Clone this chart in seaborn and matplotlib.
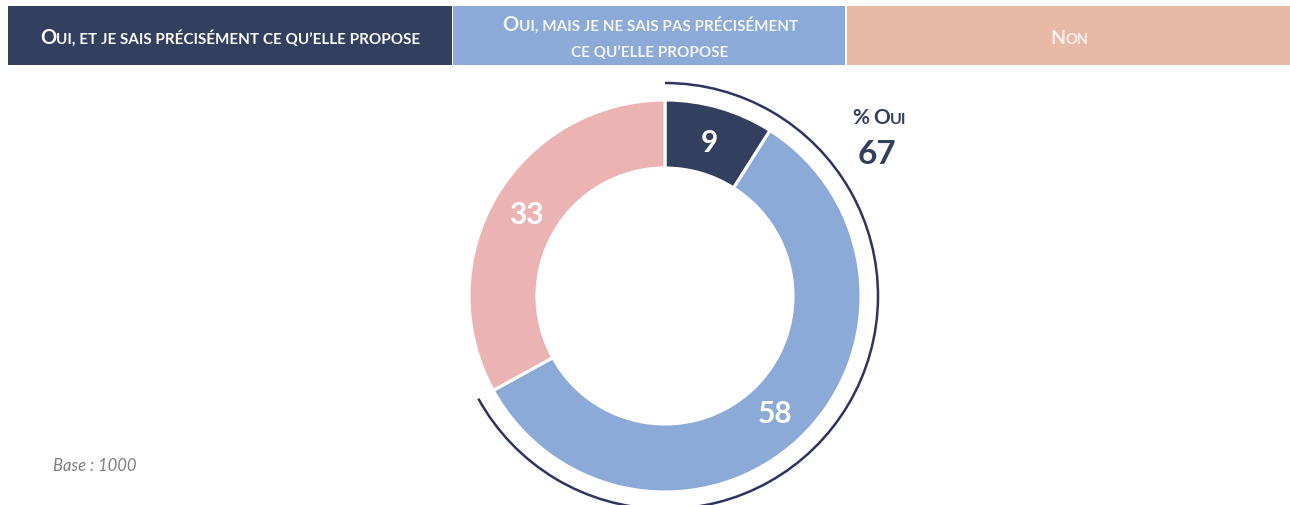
import matplotlib
matplotlib.use("Agg")
import matplotlib.pyplot as plt
from matplotlib.patches import Rectangle, Arc
import seaborn as sns

# Data
categories = ["Oui, et je sais précisément ce qu’elle propose",
              "Oui, mais je ne sais pas précisément\nce qu’elle propose",
              "Non"]
values = [9, 58, 33]
yes_total = values[0] + values[1]
base_label = "Base : 1000"

navy = "#333F5E"
blue = "#8BAAD8"
pink = "#EBB4B3"
head_pink = "#E9B9A7"
arc_col = "#2E3462"

sns.set_style("white")
plt.rcParams["font.family"] = ["Lato", "DejaVu Sans"]

W, H = 1290, 506
fig = plt.figure(figsize=(W / 100, H / 100), dpi=100)
ax = fig.add_axes([0, 0, 1, 1])

cx, cy, R = 665, H - 297, 196

wedges, texts, autotexts = ax.pie(
    values, colors=[navy, blue, pink], startangle=90, counterclock=False,
    radius=R, center=(cx, cy), pctdistance=0.82,
    autopct=lambda p: f"{p:.0f}",
    wedgeprops=dict(width=68, edgecolor="white", linewidth=2.2),
    textprops=dict(color="white", fontsize=21.5, fontweight="bold"))

# arc around the "oui" share
ax.add_patch(Arc((cx, cy), 2 * 213, 2 * 213, theta1=90 - yes_total * 3.6, theta2=90,
                 color=arc_col, lw=1.8))

ax.set_xlim(0, W)
ax.set_ylim(0, H)
ax.set_aspect("equal")
ax.axis("off")

renderer = fig.canvas.get_renderer()


def small_caps(x, y, text, big, small, color, weight="bold"):
    # split into runs of big (capitals, %) and small (lowercase and the rest)
    runs = []
    for ch in text:
        size = big if (ch.isupper() or ch == "%") else small
        if runs and runs[-1][1] == size:
            runs[-1][0] += ch.upper()
        else:
            runs.append([ch.upper(), size])
    items = []
    total = 0
    for s, size in runs:
        t = ax.text(0, y, s, fontsize=size, fontweight=weight, color=color, va="baseline")
        w = t.get_window_extent(renderer).width
        items.append((t, w))
        total += w
    pos = x - total / 2
    for t, w in items:
        t.set_x(pos)
        pos += w


# header boxes
boxes = [(8, 452, navy), (453, 845, blue), (847, 1290, head_pink)]
for (x0, x1, c) in boxes:
    ax.add_patch(Rectangle((x0, H - 66), x1 - x0, 59, color=c, lw=0))

small_caps(230, H - 44, categories[0], 14.5, 11, "white")
line1, line2 = categories[1].split("\n")
small_caps(650, H - 31, line1, 14.5, 11, "#F4F6FA")
small_caps(650, H - 57, line2, 14.5, 11, "#F4F6FA")
small_caps(1069, H - 44, categories[2], 14, 10.5, "#FBF1EC")

# % oui
small_caps(879, H - 124, "% Oui", 15, 11.5, navy)
ax.text(877, H - 155, f"{yes_total}", fontsize=24, fontweight="bold", color=navy,
        ha="center", va="center")

ax.text(53, H - 466, base_label, fontsize=12, style="italic", color="#7F7F7F",
        va="center", ha="left")

fig.savefig("out.png", dpi=100)
